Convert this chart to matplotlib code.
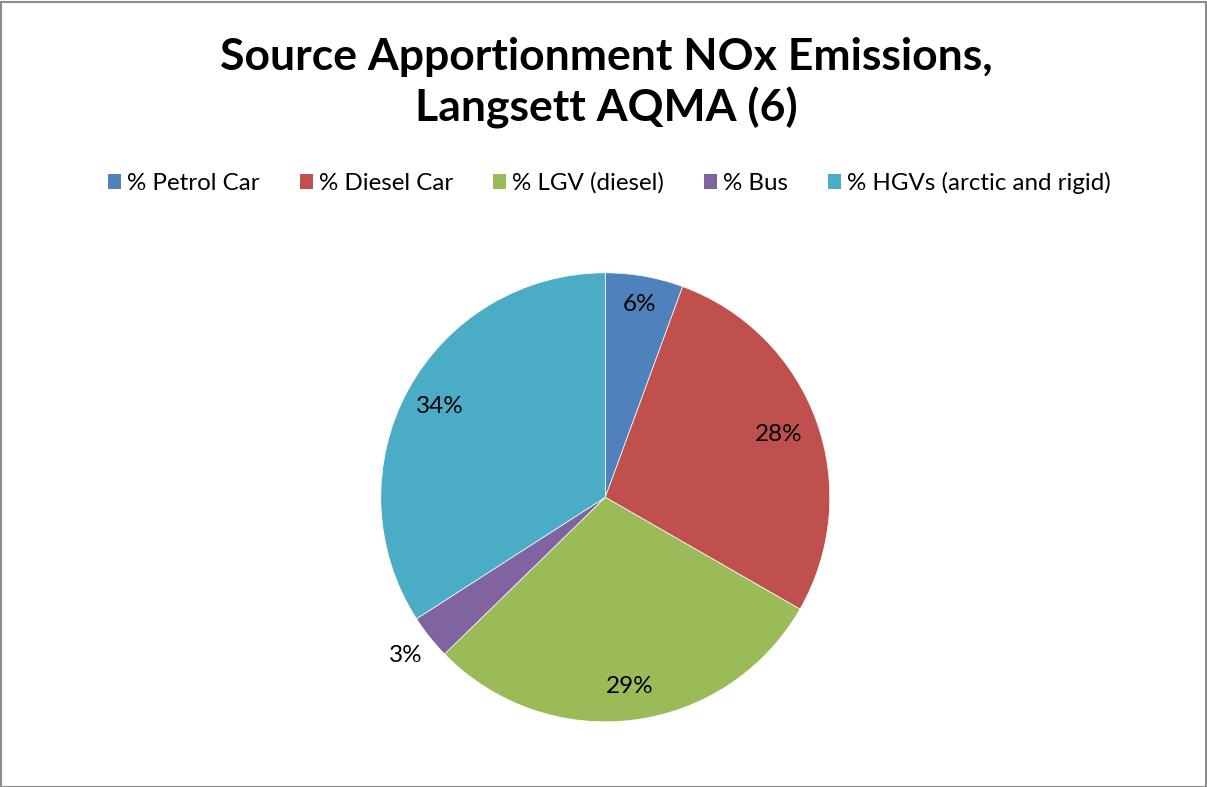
import matplotlib
matplotlib.use("Agg")
import matplotlib.pyplot as plt
from matplotlib.patches import Rectangle, Patch
import numpy as np

categories = ["% Petrol Car", "% Diesel Car", "% LGV (diesel)", "% Bus", "% HGVs (arctic and rigid)"]
values = [5.6, 27.7, 29.4, 3.2, 34.1]
colors = ["#4F81BD", "#C0504D", "#9BBB59", "#8064A2", "#4BACC6"]
label_dist = [0.87, 0.82, 0.85, 1.135, 0.84]

plt.rcParams['font.family'] = ['Lato', 'DejaVu Sans']

W, H = 1207, 787
fig = plt.figure(figsize=(W / 100, H / 100), dpi=100)
fig.patch.set_facecolor("white")

# border
fig.add_artist(Rectangle((0.5 / W, 0.5 / H), (W - 1.5) / W, (H - 2) / H, transform=fig.transFigure,
                         fill=False, edgecolor="#8c8c8c", linewidth=1.5))

# pie axes
cx, cy, R = 605.3, 497.3, 224.5
half = 250
ax = fig.add_axes([(cx - half) / W, (H - cy - half) / H, 2 * half / W, 2 * half / H])

wedges, _ = ax.pie(values, colors=colors, startangle=90, counterclock=False, radius=1.0,
                   wedgeprops=dict(linewidth=0.5, edgecolor="white"))
ax.set_xlim(-half / R, half / R)
ax.set_ylim(-half / R, half / R)
ax.set_aspect("equal")
ax.axis("off")

total = sum(values)
for w, v, d in zip(wedges, values, label_dist):
    ang = np.deg2rad((w.theta1 + w.theta2) / 2)
    ax.text(d * np.cos(ang), d * np.sin(ang), f"{round(v / total * 100):.0f}%",
            ha="center", va="center", fontsize=17.5, color="black")

# title
fig.text(606 / W, 1 - 57 / H, "Source Apportionment NOx Emissions,", ha="center", va="center",
         fontsize=32, fontweight="bold")
fig.text(606 / W, 1 - 108 / H, "Langsett AQMA (6)", ha="center", va="center",
         fontsize=32, fontweight="bold")

# legend
fs = 17.4
fpx = fs * 100 / 72
handles = [Patch(facecolor=c, edgecolor="none") for c in colors]
fig.legend(handles, categories, loc="center", bbox_to_anchor=(609.5 / W, 1 - 183 / H), ncol=5,
           frameon=False, fontsize=fs, handlelength=13 / fpx, handleheight=13 / fpx,
           handletextpad=6 / fpx, columnspacing=40 / fpx, borderpad=0, borderaxespad=0)

fig.savefig("out.png", dpi=100, facecolor="white")
